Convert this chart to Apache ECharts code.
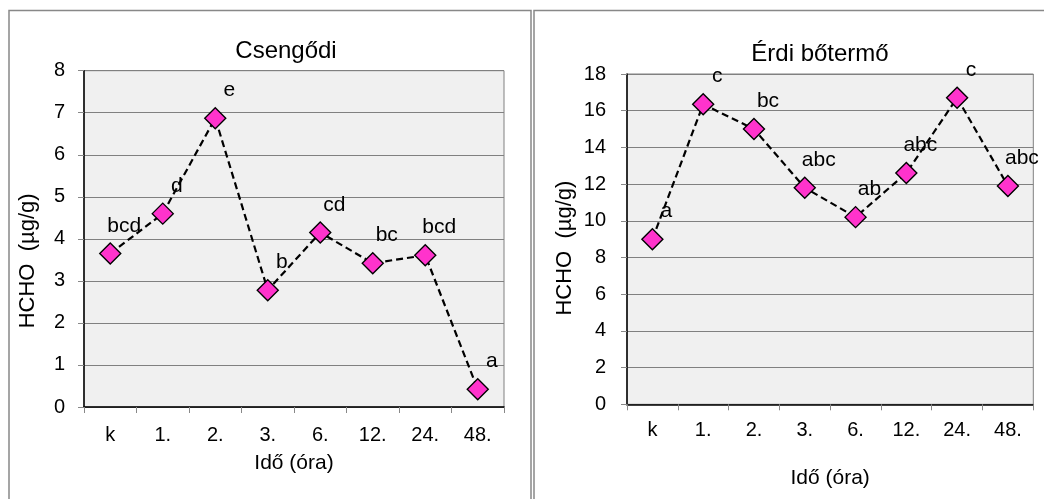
<!DOCTYPE html>
<html>
<head>
<meta charset="utf-8">
<script src="https://cdn.jsdelivr.net/npm/echarts@6/dist/echarts.min.js"></script>
<style>
html,body{margin:0;padding:0;background:#fff;}
#c{width:1044px;height:499px;}
</style>
</head>
<body>
<div id="c"></div>
<script>
// ---- data ----
const categories = ['k', '1.', '2.', '3.', '6.', '12.', '24.', '48.'];
const csengodiValues = [3.65, 4.6, 6.87, 2.78, 4.15, 3.42, 3.61, 0.42];
const csengodiLetters = ['bcd', 'd', 'e', 'b', 'cd', 'bc', 'bcd', 'a'];
const erdiValues = [9.0, 16.35, 15.0, 11.8, 10.2, 12.6, 16.7, 11.9];
const erdiLetters = ['a', 'c', 'bc', 'abc', 'ab', 'abc', 'c', 'abc'];
const titles = ['Csengődi', 'Érdi bőtermő'];
const xName = 'Idő (óra)';
const yName = 'HCHO  (µg/g)';

const FONT = "'Liberation Sans', Arial, sans-serif";
const chart = echarts.init(document.getElementById('c'), null, {renderer: 'canvas'});

function xAxis(gridIndex, nameGap, labelMargin) {
  return {
    type: 'category', gridIndex, data: categories, boundaryGap: true,
    name: xName, nameLocation: 'middle', nameGap,
    nameTextStyle: {fontFamily: FONT, fontSize: 21, color: '#000'},
    axisLine: {lineStyle: {color: '#000', width: 1.5}},
    axisTick: {show: true, length: 6, lineStyle: {color: '#888'}},
    axisLabel: {fontFamily: FONT, fontSize: 20, color: '#000', margin: labelMargin},
    splitLine: {show: false}
  };
}
function yAxis(gridIndex, max, interval, nameGap, labelMargin, nameShift) {
  return {
    type: 'value', gridIndex, min: 0, max, interval,
    name: yName, nameLocation: 'middle', nameGap,
    nameTextStyle: {fontFamily: FONT, fontSize: 22, color: '#000', padding: [0, nameShift, 0, 0]},
    axisLine: {show: true, lineStyle: {color: '#000', width: 1.5}},
    axisTick: {show: true, length: 6, lineStyle: {color: '#888'}},
    axisLabel: {fontFamily: FONT, fontSize: 20, color: '#000', margin: labelMargin},
    splitLine: {show: true, lineStyle: {color: '#808080', width: 1}}
  };
}
function series(idx, values, letters) {
  return {
    type: 'line', xAxisIndex: idx, yAxisIndex: idx,
    data: values.map((v, i) => ({value: v, label: {formatter: letters[i]}})),
    symbol: 'diamond', symbolSize: 21,
    lineStyle: {color: '#000', width: 2.2, type: [7, 4]},
    itemStyle: {color: '#ff33cc', borderColor: '#000', borderWidth: 1.4},
    label: {show: true, position: 'top', offset: [14, -1], fontFamily: FONT, fontSize: 21, color: '#000'},
    animation: false, z: 3
  };
}

chart.setOption({
  animation: false,
  backgroundColor: '#fff',
  title: [
    {text: titles[0], left: 281, top: 34, textAlign: 'center',
     textStyle: {fontFamily: FONT, fontSize: 24, fontWeight: 'normal', color: '#000'}},
    {text: titles[1], left: 815, top: 37, textAlign: 'center',
     textStyle: {fontFamily: FONT, fontSize: 24, fontWeight: 'normal', color: '#000'}}
  ],
  graphic: [
    {type: 'polyline', shape: {points: [[9, 499], [9, 10.5], [531, 10.5], [531, 499]]},
     style: {stroke: '#888', lineWidth: 1.5, fill: null}, silent: true},
    {type: 'polyline', shape: {points: [[534, 499], [534, 10.5], [1044, 10.5]]},
     style: {stroke: '#888', lineWidth: 1.5, fill: null}, silent: true}
  ],
  grid: [
    {left: 84, top: 70.7, width: 420, height: 336.3, show: true,
     backgroundColor: '#f0f0f0', borderColor: '#808080', borderWidth: 1},
    {left: 627, top: 74, width: 406.3, height: 330.3, show: true,
     backgroundColor: '#f0f0f0', borderColor: '#808080', borderWidth: 1}
  ],
  xAxis: [xAxis(0, 46, 18), xAxis(1, 63, 16)],
  yAxis: [yAxis(0, 8, 1, 45, 19, 44), yAxis(1, 18, 2, 51, 21, 18)],
  series: [series(0, csengodiValues, csengodiLetters), series(1, erdiValues, erdiLetters)]
});
</script>
</body>
</html>
